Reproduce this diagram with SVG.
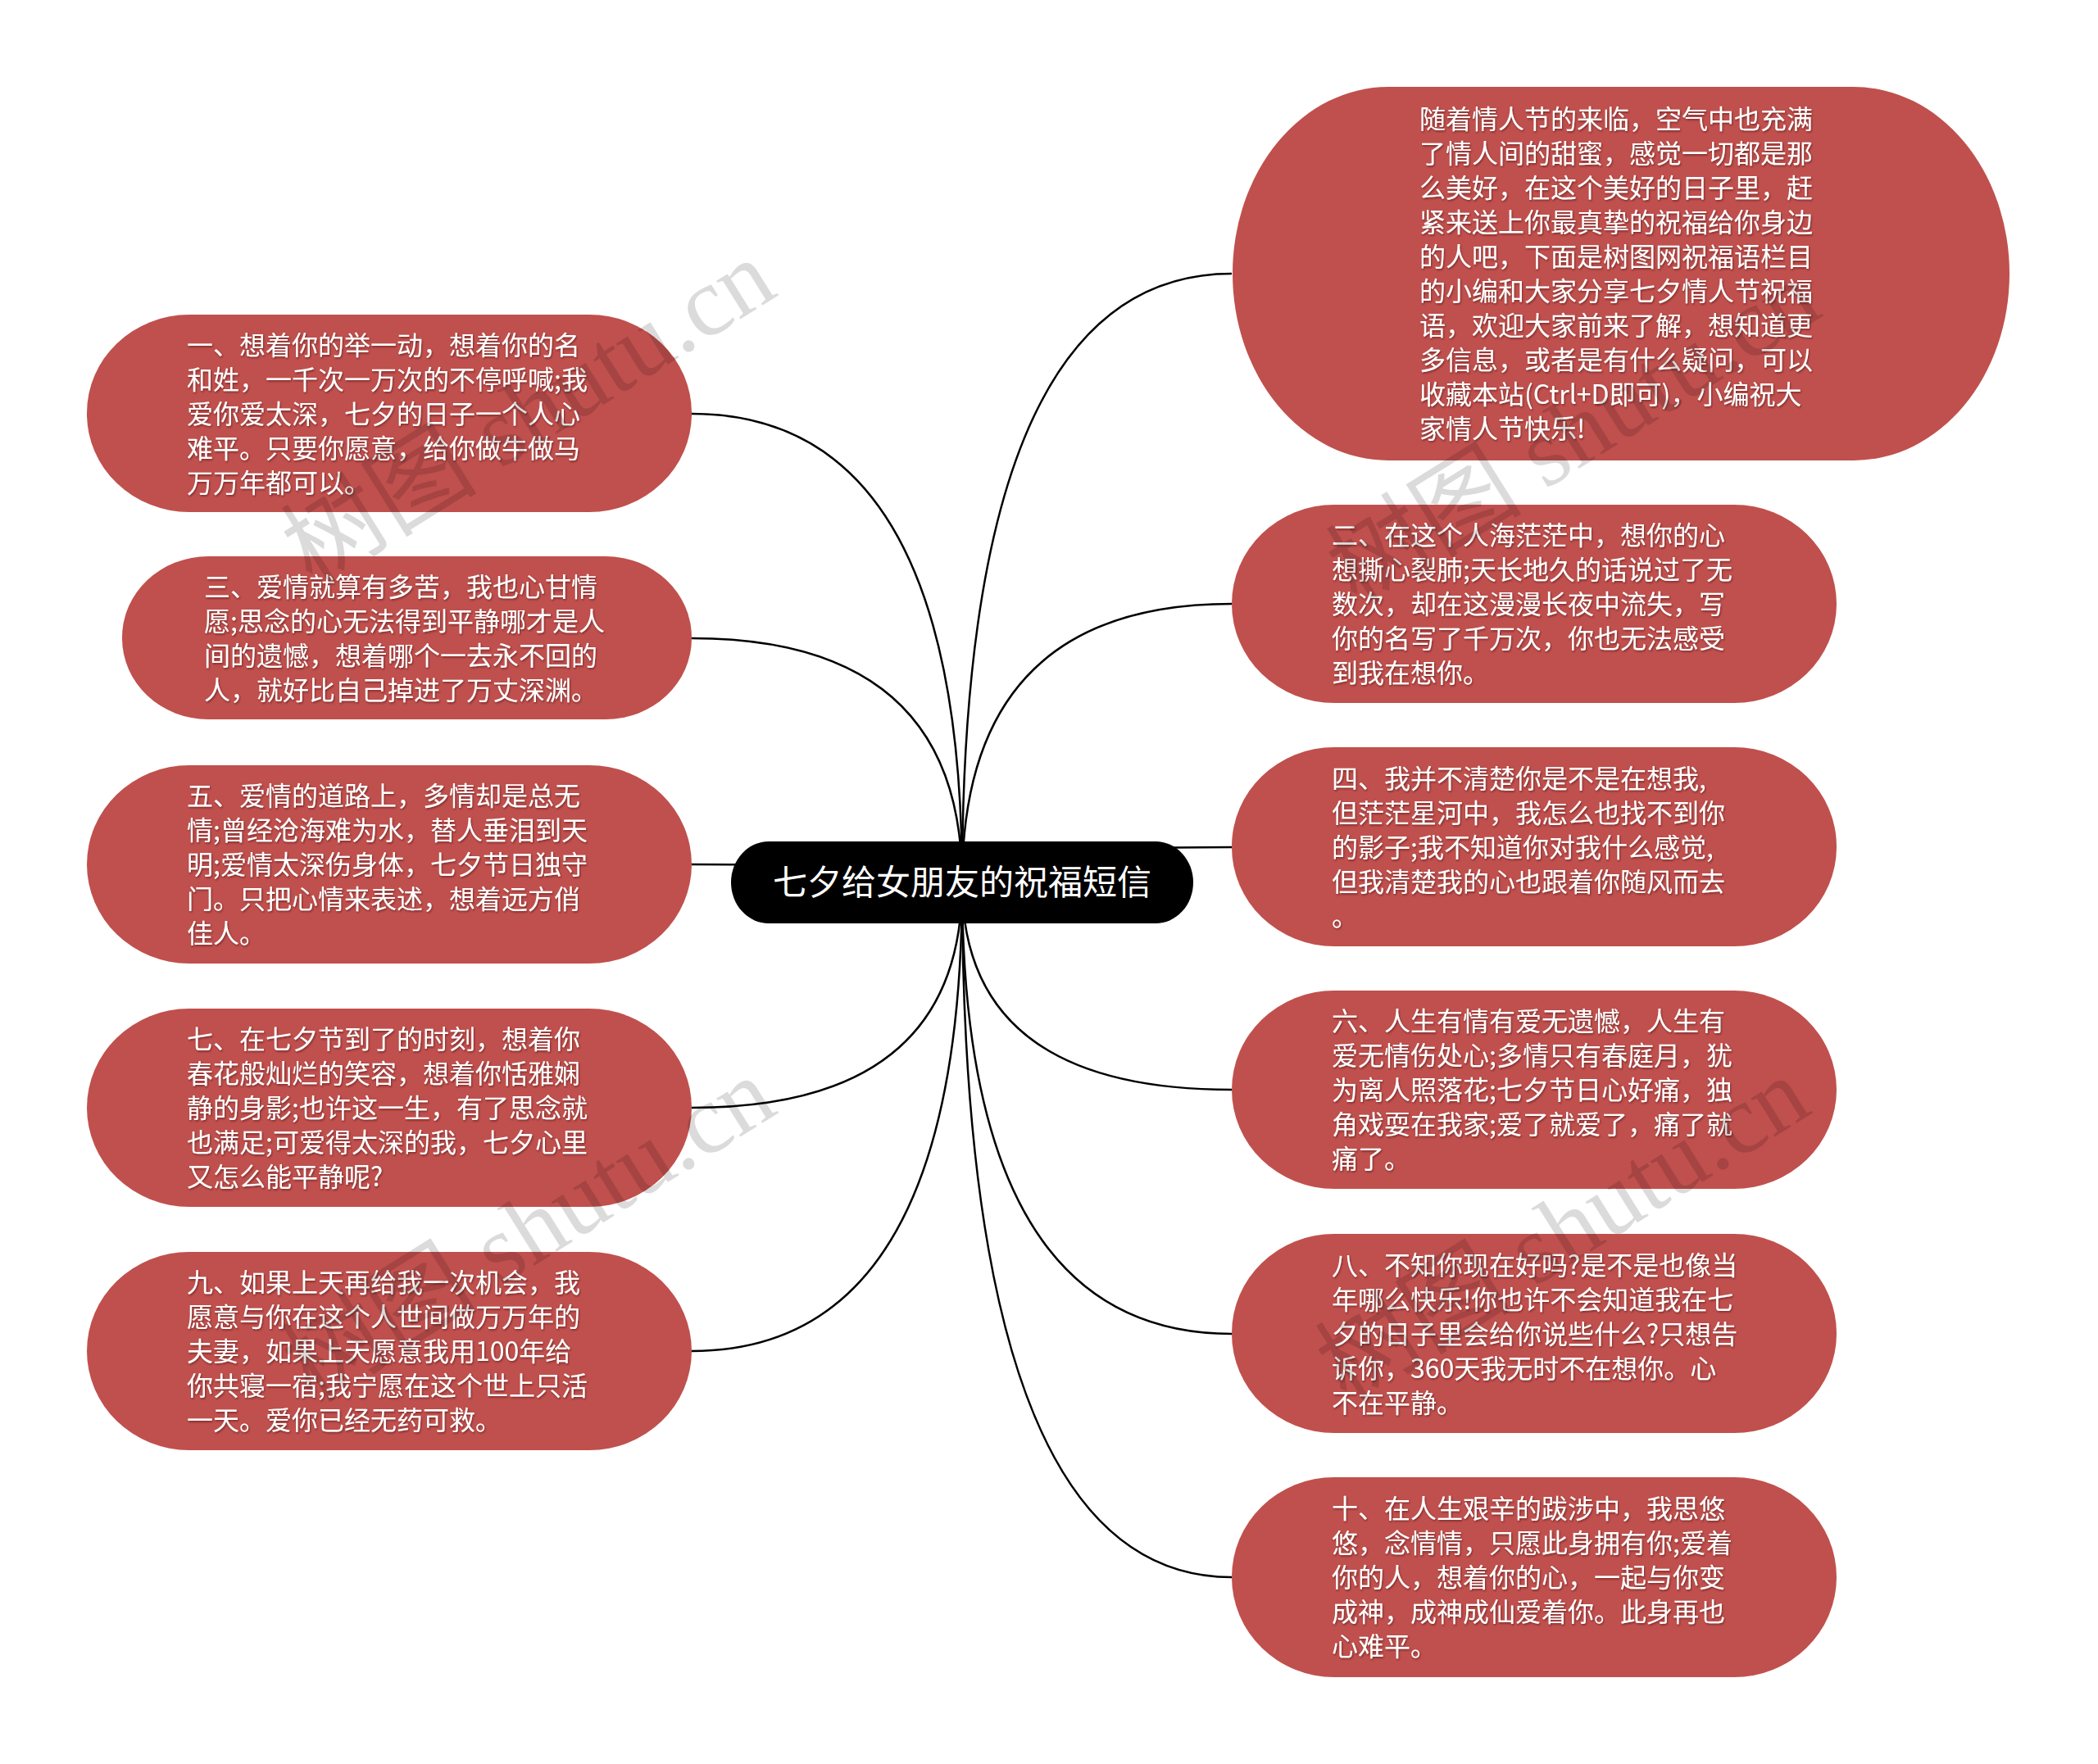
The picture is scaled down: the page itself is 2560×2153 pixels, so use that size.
<svg xmlns="http://www.w3.org/2000/svg" width="2560" height="2153" viewBox="0 0 2560 2153">
<defs>
<style>
.box{fill:#C0504D;}
.t{font-family:"Noto Sans CJK SC","Liberation Sans",sans-serif;font-size:32px;fill:#ffffff;filter:url(#ts);}
.root-t{font-family:"Noto Sans CJK SC","Liberation Sans",sans-serif;font-size:42px;fill:#ffffff;}
.edge{fill:none;stroke:#000000;stroke-width:2.5;}
.wm{font-family:"Liberation Serif","Noto Sans CJK SC",serif;font-size:120px;fill:#000000;fill-opacity:0.14;}
</style>
<filter id="ts" x="-5%" y="-20%" width="110%" height="140%">
<feDropShadow dx="1" dy="1.5" stdDeviation="0.8" flood-color="#5a1a1a" flood-opacity="0.7"/>
</filter>
</defs>
<rect width="2560" height="2153" fill="#ffffff"/>
<g id="connectors">
<path class="edge" d="M1174 1077 Q1174 505 844 505"/>
<path class="edge" d="M1174 1077 Q1174 779 844 779"/>
<path class="edge" d="M1174 1077 Q1174 1055 844 1055"/>
<path class="edge" d="M1174 1077 Q1174 1352 844 1352"/>
<path class="edge" d="M1174 1077 Q1174 1649 844 1649"/>
<path class="edge" d="M1174 1077 Q1174 334 1503 334"/>
<path class="edge" d="M1174 1077 Q1174 737 1503 737"/>
<path class="edge" d="M1174 1077 Q1174 1034 1503 1034"/>
<path class="edge" d="M1174 1077 Q1174 1330 1503 1330"/>
<path class="edge" d="M1174 1077 Q1174 1628 1503 1628"/>
<path class="edge" d="M1174 1077 Q1174 1925 1503 1925"/>
</g>
<g id="root">
<rect x="892" y="1027" width="564" height="100" rx="46" ry="50" fill="#000000"/>
<text class="root-t" x="1174" y="1092" text-anchor="middle">七夕给女朋友的祝福短信</text>
</g>
<g id="n1">
<rect class="box" x="106" y="384" width="738" height="241" rx="125" ry="120"/>
<text class="t"><tspan x="228" y="433">一、想着你的举一动，想着你的名</tspan><tspan x="228" y="475">和姓，一千次一万次的不停呼喊;我</tspan><tspan x="228" y="517">爱你爱太深，七夕的日子一个人心</tspan><tspan x="228" y="559">难平。只要你愿意，给你做牛做马</tspan><tspan x="228" y="601">万万年都可以。</tspan></text>
</g>
<g id="n3">
<rect class="box" x="149" y="679" width="695" height="199" rx="105" ry="99"/>
<text class="t"><tspan x="249" y="728">三、爱情就算有多苦，我也心甘情</tspan><tspan x="249" y="770">愿;思念的心无法得到平静哪才是人</tspan><tspan x="249" y="812">间的遗憾，想着哪个一去永不回的</tspan><tspan x="249" y="854">人，就好比自己掉进了万丈深渊。</tspan></text>
</g>
<g id="n5">
<rect class="box" x="106" y="934" width="738" height="242" rx="125" ry="121"/>
<text class="t"><tspan x="228" y="983">五、爱情的道路上，多情却是总无</tspan><tspan x="228" y="1025">情;曾经沧海难为水，替人垂泪到天</tspan><tspan x="228" y="1067">明;爱情太深伤身体，七夕节日独守</tspan><tspan x="228" y="1109">门。只把心情来表述，想着远方俏</tspan><tspan x="228" y="1151">佳人。</tspan></text>
</g>
<g id="n7">
<rect class="box" x="106" y="1231" width="738" height="242" rx="125" ry="121"/>
<text class="t"><tspan x="228" y="1280">七、在七夕节到了的时刻，想着你</tspan><tspan x="228" y="1322">春花般灿烂的笑容，想着你恬雅娴</tspan><tspan x="228" y="1364">静的身影;也许这一生，有了思念就</tspan><tspan x="228" y="1406">也满足;可爱得太深的我，七夕心里</tspan><tspan x="228" y="1448">又怎么能平静呢?</tspan></text>
</g>
<g id="n9">
<rect class="box" x="106" y="1528" width="738" height="242" rx="125" ry="121"/>
<text class="t"><tspan x="228" y="1577">九、如果上天再给我一次机会，我</tspan><tspan x="228" y="1619">愿意与你在这个人世间做万万年的</tspan><tspan x="228" y="1661">夫妻，如果上天愿意我用100年给</tspan><tspan x="228" y="1703">你共寝一宿;我宁愿在这个世上只活</tspan><tspan x="228" y="1745">一天。爱你已经无药可救。</tspan></text>
</g>
<g id="intro">
<rect class="box" x="1504" y="106" width="948" height="456" rx="190" ry="228"/>
<text class="t"><tspan x="1732" y="157">随着情人节的来临，空气中也充满</tspan><tspan x="1732" y="199">了情人间的甜蜜，感觉一切都是那</tspan><tspan x="1732" y="241">么美好，在这个美好的日子里，赶</tspan><tspan x="1732" y="283">紧来送上你最真挚的祝福给你身边</tspan><tspan x="1732" y="325">的人吧，下面是树图网祝福语栏目</tspan><tspan x="1732" y="367">的小编和大家分享七夕情人节祝福</tspan><tspan x="1732" y="409">语，欢迎大家前来了解，想知道更</tspan><tspan x="1732" y="451">多信息，或者是有什么疑问，可以</tspan><tspan x="1732" y="493">收藏本站(Ctrl+D即可)，小编祝大</tspan><tspan x="1732" y="535">家情人节快乐!</tspan></text>
</g>
<g id="n2">
<rect class="box" x="1503" y="616" width="738" height="242" rx="125" ry="121"/>
<text class="t"><tspan x="1625" y="665">二、在这个人海茫茫中，想你的心</tspan><tspan x="1625" y="707">想撕心裂肺;天长地久的话说过了无</tspan><tspan x="1625" y="749">数次，却在这漫漫长夜中流失，写</tspan><tspan x="1625" y="791">你的名写了千万次，你也无法感受</tspan><tspan x="1625" y="833">到我在想你。</tspan></text>
</g>
<g id="n4">
<rect class="box" x="1503" y="912" width="738" height="243" rx="125" ry="121"/>
<text class="t"><tspan x="1625" y="962">四、我并不清楚你是不是在想我,</tspan><tspan x="1625" y="1004">但茫茫星河中，我怎么也找不到你</tspan><tspan x="1625" y="1046">的影子;我不知道你对我什么感觉,</tspan><tspan x="1625" y="1088">但我清楚我的心也跟着你随风而去</tspan><tspan x="1625" y="1130">。</tspan></text>
</g>
<g id="n6">
<rect class="box" x="1503" y="1209" width="738" height="242" rx="125" ry="121"/>
<text class="t"><tspan x="1625" y="1258">六、人生有情有爱无遗憾，人生有</tspan><tspan x="1625" y="1300">爱无情伤处心;多情只有春庭月，犹</tspan><tspan x="1625" y="1342">为离人照落花;七夕节日心好痛，独</tspan><tspan x="1625" y="1384">角戏耍在我家;爱了就爱了，痛了就</tspan><tspan x="1625" y="1426">痛了。</tspan></text>
</g>
<g id="n8">
<rect class="box" x="1503" y="1506" width="738" height="243" rx="125" ry="121"/>
<text class="t"><tspan x="1625" y="1556">八、不知你现在好吗?是不是也像当</tspan><tspan x="1625" y="1598">年哪么快乐!你也许不会知道我在七</tspan><tspan x="1625" y="1640">夕的日子里会给你说些什么?只想告</tspan><tspan x="1625" y="1682">诉你，360天我无时不在想你。心</tspan><tspan x="1625" y="1724">不在平静。</tspan></text>
</g>
<g id="n10">
<rect class="box" x="1503" y="1803" width="738" height="244" rx="125" ry="122"/>
<text class="t"><tspan x="1625" y="1853">十、在人生艰辛的跋涉中，我思悠</tspan><tspan x="1625" y="1895">悠，念情情，只愿此身拥有你;爱着</tspan><tspan x="1625" y="1937">你的人，想着你的心，一起与你变</tspan><tspan x="1625" y="1979">成神，成神成仙爱着你。此身再也</tspan><tspan x="1625" y="2021">心难平。</tspan></text>
</g>
<g id="watermarks">
<text class="wm" transform="translate(381 716) rotate(-32)">树图 shutu.cn</text>
<text class="wm" transform="translate(381 1714) rotate(-32)">树图 shutu.cn</text>
<text class="wm" transform="translate(1656 741) rotate(-32)">树图 shutu.cn</text>
<text class="wm" transform="translate(1643 1714) rotate(-32)">树图 shutu.cn</text>
</g>
</svg>
